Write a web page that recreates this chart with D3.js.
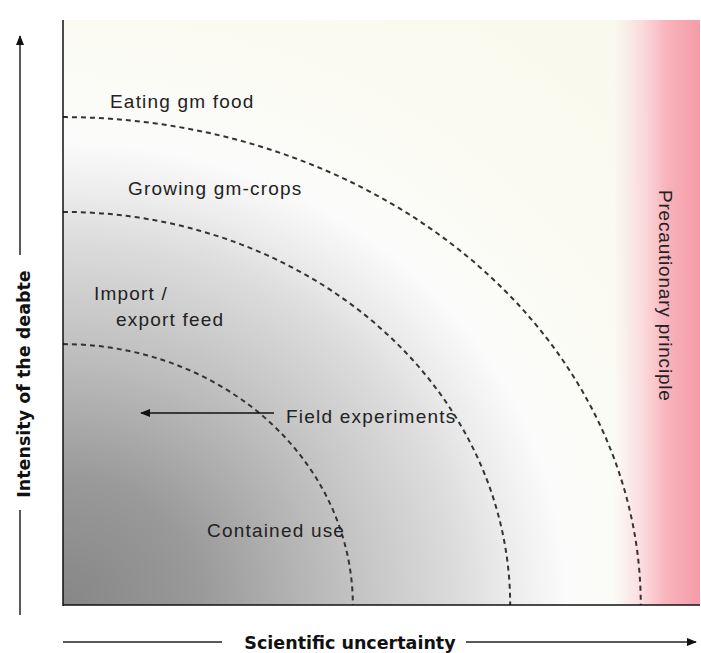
<!DOCTYPE html>
<html>
<head>
<meta charset="utf-8">
<script src="https://cdn.jsdelivr.net/npm/d3@7"></script>
<style>
  body { margin: 0; background: #fff; }
  svg { display: block; }
  .zone { font-family: "Liberation Sans", Arial, sans-serif; font-size: 19px; letter-spacing: 1.2px; fill: #222; }
  .axis-title { font-family: "DejaVu Sans", sans-serif; font-weight: bold; font-size: 17.5px; fill: #111; }
</style>
</head>
<body>
<div id="wrapper"></div>
<script>
// rings of the debate, in % of each axis
const ringNames = ["Contained use", "Import / export feed", "Growing gm-crops", "Eating gm food"]
const ringUncertainty = [45.5, 70.2, 90.7]
const ringIntensity = [44.6, 67.2, 83.4]

const zoneLabels = ["Eating gm food", "Growing gm-crops", "Import /", "export feed", "Field experiments", "Contained use"]
const sideLabel = "Precautionary principle"
const xTitle = "Scientific uncertainty"
const yTitle = "Intensity of the deabte"

const width = 701
const height = 653

let dimensions = {
  width: width,
  height: height,
  margin: { top: 20, right: 1, bottom: 48, left: 63 },
}
dimensions.boundedWidth = dimensions.width - dimensions.margin.left - dimensions.margin.right
dimensions.boundedHeight = dimensions.height - dimensions.margin.top - dimensions.margin.bottom

const svg = d3.select("#wrapper")
  .append("svg")
  .attr("width", dimensions.width)
  .attr("height", dimensions.height)

const xScale = d3.scaleLinear()
  .domain([0, 100])
  .range([dimensions.margin.left, dimensions.margin.left + dimensions.boundedWidth])

const yScale = d3.scaleLinear()
  .domain([0, 100])
  .range([dimensions.margin.top + dimensions.boundedHeight, dimensions.margin.top])

const defs = svg.append("defs")

// grey corner fading out to white, then cream
const bg = defs.append("radialGradient")
  .attr("id", "bg")
  .attr("gradientUnits", "userSpaceOnUse")
  .attr("cx", 0).attr("cy", 0).attr("r", 800)
  .attr("fx", 0).attr("fy", 0)
  .attr("gradientTransform", `translate(${xScale(0)},${yScale(0)}) scale(1,0.92)`)
bg.selectAll("stop")
  .data([
    [0, "#868686"], [0.17, "#999999"], [0.36, "#c2c2c2"], [0.5, "#dddddd"],
    [0.56, "#ececec"], [0.63, "#fbfbfb"], [0.72, "#fbfbf6"], [0.82, "#fafaf0"], [1, "#f9f9ee"],
  ])
  .join("stop")
  .attr("offset", d => d[0])
  .attr("stop-color", d => d[1])

// pink band at the right edge
const red = defs.append("linearGradient")
  .attr("id", "red")
  .attr("gradientUnits", "userSpaceOnUse")
  .attr("x1", xScale(86.5)).attr("y1", 0)
  .attr("x2", xScale(100)).attr("y2", 0)
red.selectAll("stop")
  .data([[0, "#fbd6dc", 0], [0.3, "#fbd2d8", 0.7], [0.6, "#f8b4bc", 1], [1, "#f59ca7", 1]])
  .join("stop")
  .attr("offset", d => d[0])
  .attr("stop-color", d => d[1])
  .attr("stop-opacity", d => d[2])

const arrow = defs.append("marker")
  .attr("id", "arrow")
  .attr("viewBox", "0 0 10 10")
  .attr("refX", 9).attr("refY", 5)
  .attr("markerWidth", 10).attr("markerHeight", 10)
  .attr("markerUnits", "userSpaceOnUse")
  .attr("orient", "auto")
arrow.append("path").attr("d", "M0,1 L10,5 L0,9 Z").attr("fill", "#111")

// background
svg.append("rect")
  .attr("x", xScale(0)).attr("y", yScale(100))
  .attr("width", xScale(100) - xScale(0))
  .attr("height", yScale(0) - yScale(100))
  .attr("fill", "url(#bg)")

svg.append("rect")
  .attr("x", xScale(86.5)).attr("y", yScale(100))
  .attr("width", xScale(100) - xScale(86.5))
  .attr("height", yScale(0) - yScale(100))
  .attr("fill", "url(#red)")

// dashed quarter rings
const rings = ringUncertainty.map((u, i) => ({ u: u, v: ringIntensity[i] }))
svg.append("g")
  .selectAll("path")
  .data(rings)
  .join("path")
  .attr("d", d => {
    const rx = xScale(d.u) - xScale(0)
    const ry = yScale(0) - yScale(d.v)
    return `M${xScale(0)},${yScale(d.v)} A${rx},${ry} 0 0 1 ${xScale(d.u)},${yScale(0)}`
  })
  .attr("fill", "none")
  .attr("stroke", "#333")
  .attr("stroke-width", 2)
  .attr("stroke-dasharray", "5,4")

// frame: left and bottom edges
svg.append("line")
  .attr("x1", xScale(0)).attr("x2", xScale(0))
  .attr("y1", yScale(100)).attr("y2", yScale(0) + 1)
  .attr("stroke", "#111").attr("stroke-width", 1.5)
svg.append("line")
  .attr("x1", xScale(0)).attr("x2", xScale(100))
  .attr("y1", yScale(0)).attr("y2", yScale(0))
  .attr("stroke", "#111").attr("stroke-width", 1.5)

// zone labels
const labelPos = [[110, 108], [128, 195], [94, 300], [116, 326], [286, 423], [207, 537]]
svg.append("g")
  .selectAll("text")
  .data(zoneLabels)
  .join("text")
  .attr("class", "zone")
  .attr("x", (d, i) => labelPos[i][0])
  .attr("y", (d, i) => labelPos[i][1])
  .text(d => d)

// field experiments arrow
svg.append("line")
  .attr("x1", 274).attr("y1", 413)
  .attr("x2", 141).attr("y2", 413)
  .attr("stroke", "#111").attr("stroke-width", 1.5)
  .attr("marker-end", "url(#arrow)")

svg.append("text")
  .attr("class", "zone")
  .attr("transform", "translate(659,190) rotate(90)")
  .style("letter-spacing", "0.8px")
  .text(sideLabel)

// axis titles with arrows
svg.append("text")
  .attr("class", "axis-title")
  .attr("x", 350).attr("y", 649)
  .attr("text-anchor", "middle")
  .text(xTitle)
svg.append("line")
  .attr("x1", 63).attr("x2", 222).attr("y1", 642).attr("y2", 642)
  .attr("stroke", "#222").attr("stroke-width", 1.5)
svg.append("line")
  .attr("x1", 466).attr("x2", 696).attr("y1", 642).attr("y2", 642)
  .attr("stroke", "#222").attr("stroke-width", 1.5)
  .attr("marker-end", "url(#arrow)")

svg.append("text")
  .attr("class", "axis-title")
  .attr("transform", "translate(30,384) rotate(-90)")
  .attr("text-anchor", "middle")
  .text(yTitle)
svg.append("line")
  .attr("x1", 20).attr("x2", 20).attr("y1", 615).attr("y2", 510)
  .attr("stroke", "#222").attr("stroke-width", 1.5)
svg.append("line")
  .attr("x1", 20).attr("x2", 20).attr("y1", 255).attr("y2", 36)
  .attr("stroke", "#222").attr("stroke-width", 1.5)
  .attr("marker-end", "url(#arrow)")
</script>
</body>
</html>
